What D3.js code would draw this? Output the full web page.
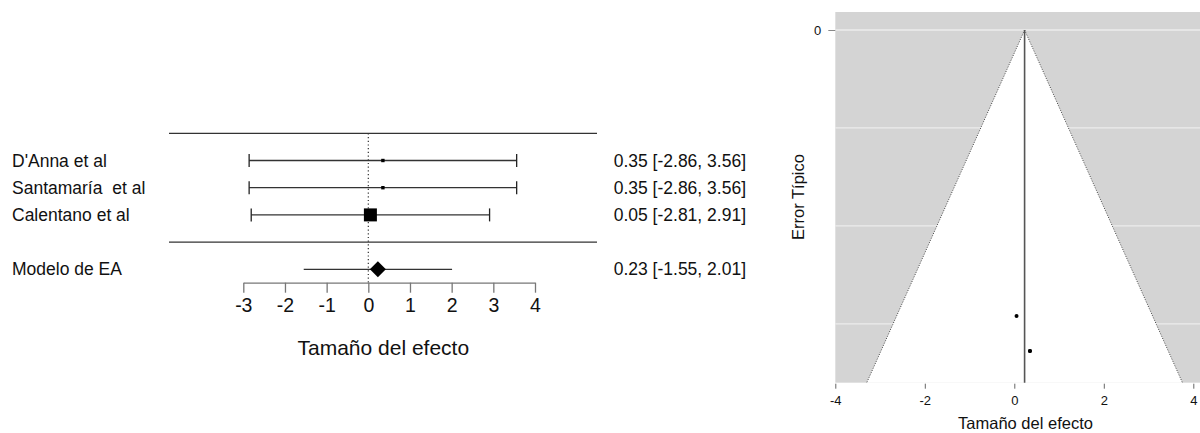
<!DOCTYPE html>
<html>
<head>
<meta charset="utf-8">
<script src="https://cdn.jsdelivr.net/npm/d3@7/dist/d3.min.js"></script>
<style>
  html, body { margin: 0; padding: 0; background: #fff; }
  svg { display: block; font-family: "Liberation Sans", Arial, sans-serif; }
  text { white-space: pre; }
</style>
</head>
<body>
<svg id="chart" width="1200" height="433"></svg>
<script>
// ---------- data ----------
const studies = ["D'Anna et al", "Santamaría  et al", "Calentano et al"];
const estimates = [0.35, 0.35, 0.05];
const ciLower = [-2.86, -2.86, -2.81];
const ciUpper = [3.56, 3.56, 2.91];
const weights = [6, 6, 88];           // relative study weights (square size)
const pooledLabel = "Modelo de EA";
const pooledEstimate = 0.23;
const pooledLower = -1.55;
const pooledUpper = 2.01;
const forestTicks = [-3, -2, -1, 0, 1, 2, 3, 4];
const funnelXTicks = [-4, -2, 0, 2, 4];
const funnelYTicks = [0];
const funnelGrid = [0, 0.5, 1, 1.5];
const xTitle = "Tamaño del efecto";
const yTitleFunnel = "Error Típico";

const svg = d3.select("#chart");
const f2 = d3.format(".2f");
const fmt = v => f2(v).replace("\u2212", "-");
const fint = v => (v < 0 ? "-" + Math.abs(v) : String(v));

// ---------- forest plot ----------
const fx = d3.scaleLinear().domain([-3, 4]).range([243.3, 535]);
const fy = d3.scaleLinear().domain([-1, 4]).range([133.3, 269.3]);
const sizeScale = d3.scaleSqrt().domain([0, d3.max(weights)]).range([0, 13]);

const forest = svg.append("g");
const lineLeft = 169, lineRight = 597;

// separators
[-1, 3].forEach(r => {
  forest.append("line")
    .attr("x1", lineLeft).attr("x2", lineRight)
    .attr("y1", fy(r)).attr("y2", fy(r))
    .attr("stroke", "#333").attr("stroke-width", 1.3);
});

// dotted reference line at 0
forest.append("line")
  .attr("x1", fx(0)).attr("x2", fx(0))
  .attr("y1", fy(-1)).attr("y2", 282.7)
  .attr("stroke", "#333").attr("stroke-width", 1.2)
  .attr("stroke-dasharray", "1.2,2.5");

// study rows
studies.forEach((s, i) => {
  const y = fy(i);
  forest.append("text").attr("x", 12).attr("y", y).attr("dy", "0.35em")
    .attr("xml:space", "preserve")
    .attr("font-size", 17.5).attr("fill", "#111").text(s);
  forest.append("line")
    .attr("x1", fx(ciLower[i])).attr("x2", fx(ciUpper[i]))
    .attr("y1", y).attr("y2", y).attr("stroke", "#333").attr("stroke-width", 1.3);
  [ciLower[i], ciUpper[i]].forEach(v => {
    forest.append("line")
      .attr("x1", fx(v)).attr("x2", fx(v))
      .attr("y1", y - 6.5).attr("y2", y + 6.5)
      .attr("stroke", "#222").attr("stroke-width", 1.3);
  });
  const sz = sizeScale(weights[i]);
  forest.append("rect")
    .attr("x", fx(estimates[i]) - sz / 2).attr("y", y - sz / 2)
    .attr("width", sz).attr("height", sz).attr("fill", "#000");
  forest.append("text").attr("x", 746).attr("y", y).attr("dy", "0.35em")
    .attr("text-anchor", "end").attr("font-size", 17.5).attr("fill", "#111")
    .text(`${fmt(estimates[i])} [${fmt(ciLower[i])}, ${fmt(ciUpper[i])}]`);
});

// pooled row
{
  const y = fy(4);
  forest.append("text").attr("x", 12).attr("y", y).attr("dy", "0.35em")
    .attr("font-size", 17.5).attr("fill", "#111").text(pooledLabel);
  forest.append("line")
    .attr("x1", fx(pooledLower)).attr("x2", fx(pooledUpper))
    .attr("y1", y).attr("y2", y).attr("stroke", "#333").attr("stroke-width", 1.3);
  const cx = fx(pooledEstimate);
  forest.append("path")
    .attr("d", `M${cx - 8},${y} L${cx},${y - 8} L${cx + 8},${y} L${cx},${y + 8} Z`)
    .attr("fill", "#000");
  forest.append("text").attr("x", 746).attr("y", y).attr("dy", "0.35em")
    .attr("text-anchor", "end").attr("font-size", 17.5).attr("fill", "#111")
    .text(`${fmt(pooledEstimate)} [${fmt(pooledLower)}, ${fmt(pooledUpper)}]`);
}

// forest x-axis
const fAxis = forest.append("g").attr("transform", "translate(0,282.7)")
  .call(d3.axisBottom(fx).tickValues(forestTicks).tickFormat(fint)
    .tickSize(10).tickSizeOuter(0).tickPadding(5));
fAxis.select(".domain").attr("stroke", "#777").attr("stroke-width", 1.3);
fAxis.selectAll(".tick line").attr("stroke", "#777").attr("stroke-width", 1.3);
fAxis.selectAll(".tick text").attr("font-size", 19.5).attr("fill", "#111")
  .attr("font-family", "Liberation Sans, Arial, sans-serif");

forest.append("text").attr("x", fx(0.36)).attr("y", 355)
  .attr("text-anchor", "middle").attr("font-size", 21).attr("fill", "#111")
  .text(xTitle);

// ---------- funnel plot ----------
const gx = d3.scaleLinear().domain([-4, 4]).range([835.3, 1193.3]);
const gy = d3.scaleLinear().domain([0, 1.8]).range([30, 382.7]);
const panelTop = 12, panelBottom = gy(1.8);
const funnel = svg.append("g");

funnel.append("rect")
  .attr("x", gx(-4)).attr("y", panelTop)
  .attr("width", 1200 - gx(-4) + 5).attr("height", panelBottom - panelTop)
  .attr("fill", "#d4d4d4");

funnelGrid.forEach(v => {
  funnel.append("line")
    .attr("x1", gx(-4)).attr("x2", 1205)
    .attr("y1", gy(v)).attr("y2", gy(v))
    .attr("stroke", "#ececec").attr("stroke-width", 1.3);
});

const seMax = 1.8;
const leftBottom = pooledEstimate - 1.96 * seMax;
const rightBottom = pooledEstimate + 1.96 * seMax;
funnel.append("path")
  .attr("d", `M${gx(pooledEstimate)},${gy(0)} L${gx(leftBottom)},${gy(seMax)} L${gx(rightBottom)},${gy(seMax)} Z`)
  .attr("fill", "#fff");
[leftBottom, rightBottom].forEach(v => {
  funnel.append("line")
    .attr("x1", gx(pooledEstimate)).attr("y1", gy(0))
    .attr("x2", gx(v)).attr("y2", gy(seMax))
    .attr("stroke", "#444").attr("stroke-width", 1)
    .attr("stroke-dasharray", "1,1.5");
});

funnel.append("line")
  .attr("x1", gx(pooledEstimate)).attr("x2", gx(pooledEstimate))
  .attr("y1", gy(0)).attr("y2", gy(seMax))
  .attr("stroke", "#555").attr("stroke-width", 1.6);

// study points (SE derived from CI width)
studies.forEach((s, i) => {
  const se = (ciUpper[i] - ciLower[i]) / (2 * 1.96);
  funnel.append("circle")
    .attr("cx", gx(estimates[i])).attr("cy", gy(se)).attr("r", 2)
    .attr("fill", "#000");
});

// funnel x-axis (ticks only)
const gAxis = funnel.append("g").attr("transform", `translate(0,${panelBottom + 1})`)
  .call(d3.axisBottom(gx).tickValues(funnelXTicks).tickFormat(fint)
    .tickSize(5).tickSizeOuter(0).tickPadding(7));
gAxis.select(".domain").remove();
gAxis.selectAll(".tick line").attr("stroke", "#666");
gAxis.selectAll(".tick text").attr("font-size", 13).attr("fill", "#111")
  .attr("font-family", "Liberation Sans, Arial, sans-serif");

// funnel y-axis
const yAxis = funnel.append("g").attr("transform", `translate(${gx(-4)},0)`)
  .call(d3.axisLeft(gy).tickValues(funnelYTicks).tickFormat(fint)
    .tickSize(7).tickSizeOuter(0).tickPadding(7));
yAxis.select(".domain").remove();
yAxis.selectAll(".tick line").attr("stroke", "#888");
yAxis.selectAll(".tick text").attr("font-size", 13).attr("fill", "#111")
  .attr("font-family", "Liberation Sans, Arial, sans-serif");

funnel.append("text").attr("x", gx(0.25)).attr("y", 429)
  .attr("text-anchor", "middle").attr("font-size", 16.5).attr("fill", "#111")
  .text(xTitle);
funnel.append("text")
  .attr("transform", `translate(804,197) rotate(-90)`)
  .attr("text-anchor", "middle").attr("font-size", 16.5).attr("fill", "#111")
  .text(yTitleFunnel);
</script>
</body>
</html>
